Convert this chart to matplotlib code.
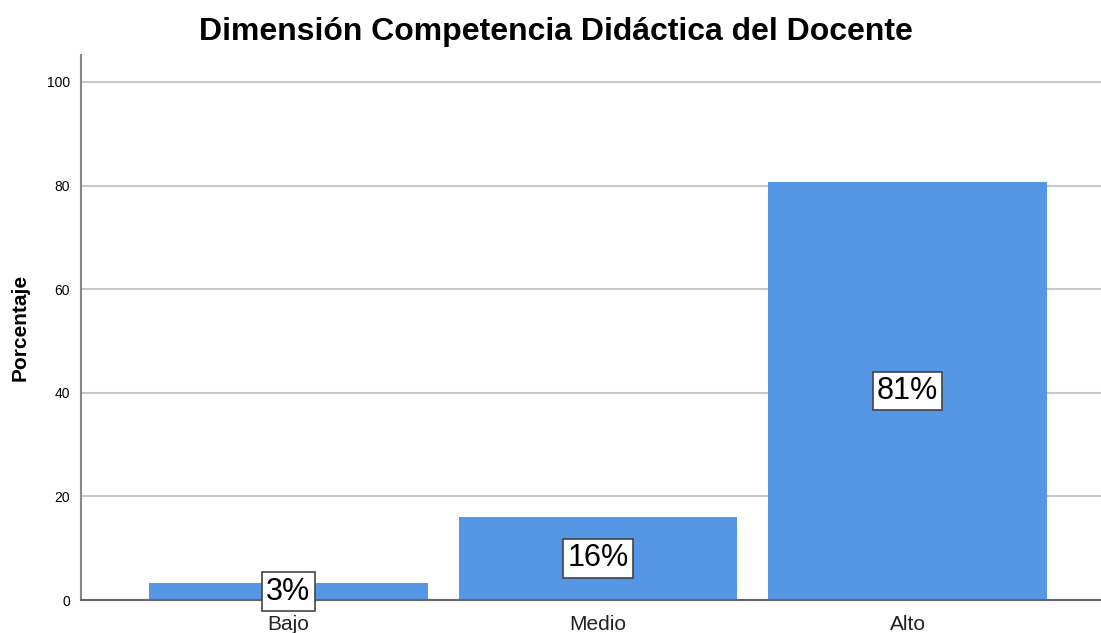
import matplotlib
matplotlib.use("Agg")
import matplotlib.pyplot as plt

categories = ["Bajo", "Medio", "Alto"]
values = [3.2, 16.1, 80.6]
labels = ["3%", "16%", "81%"]

plt.rcParams["font.family"] = ["Liberation Sans", "DejaVu Sans"]

fig = plt.figure(figsize=(11.01, 6.33), dpi=100)
ax = fig.add_axes([81 / 1101, 1 - 600 / 633, 1 - 81 / 1101, (600 - 55) / 633])

x = list(range(len(categories)))
ax.bar(x, values, width=0.9, color="#5596e5", zorder=2)

for xi, v, lab in zip(x, values, labels):
    ax.text(xi, v / 2, lab, ha="center", va="center", fontsize=22, color="black", zorder=4,
            bbox=dict(boxstyle="square,pad=0.14", facecolor="white", edgecolor="#444444", linewidth=1.2))

ax.set_xlim(-0.67, 2.625)
ax.set_ylim(0, 105.2)
ax.set_yticks([0, 20, 40, 60, 80, 100])
ax.set_xticks(x)
ax.set_xticklabels(categories, fontsize=15, color="#222222")
ax.tick_params(axis="y", length=0, labelsize=10, pad=8)
ax.tick_params(axis="x", length=0, pad=11)
ax.yaxis.grid(True, color="#c8c8c8", linewidth=1.5, zorder=0)
ax.set_axisbelow(True)

for s in ["top", "right"]:
    ax.spines[s].set_visible(False)
ax.spines["left"].set_color("#888888")
ax.spines["left"].set_linewidth(1.5)
ax.spines["bottom"].set_color("#666666")
ax.spines["bottom"].set_linewidth(1.5)

ax.set_ylabel("Porcentaje", fontsize=15, fontweight="bold", labelpad=12)
fig.text(0.505, 1 - 32 / 633, "Dimensión Competencia Didáctica del Docente",
         ha="center", va="center", fontsize=23, fontweight="bold")

fig.savefig("out.png", dpi=100)
